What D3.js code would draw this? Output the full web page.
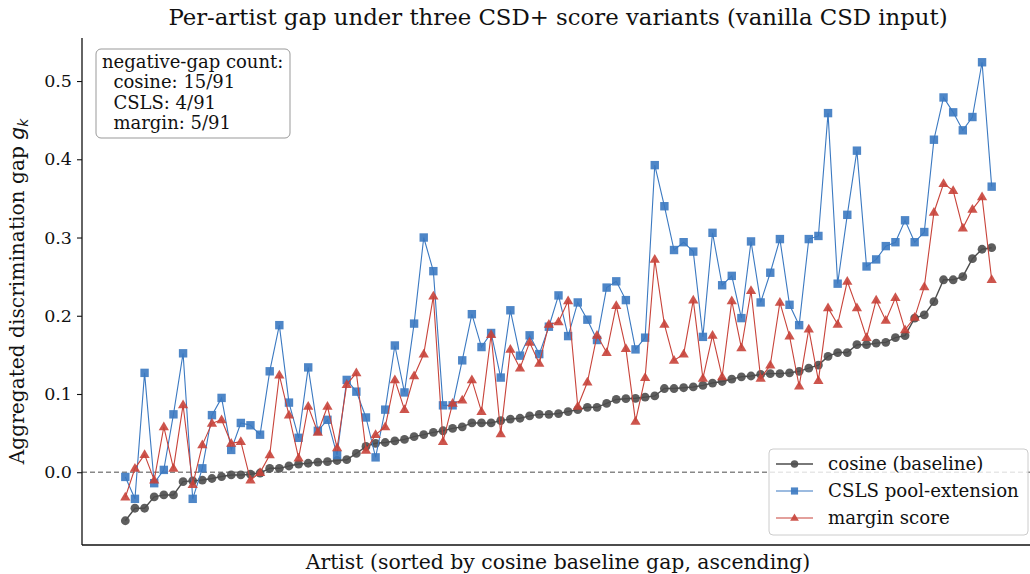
<!DOCTYPE html>
<html>
<head>
<meta charset="utf-8">
<script src="https://cdn.jsdelivr.net/npm/d3@7"></script>
<style>
  body { margin: 0; background: #fff; }
  svg { display: block; font-family: "DejaVu Serif", serif; }
</style>
</head>
<body>
<div id="chart"></div>
<script>
// per-artist gap values, artists sorted by cosine gap
var cosine = [-0.062, -0.046, -0.046, -0.0315, -0.029, -0.029, -0.012, -0.011, -0.010, -0.008, -0.0055, -0.0035, -0.0035, -0.0025, -0.001,
    0.005, 0.005, 0.008, 0.0105, 0.0115, 0.013, 0.0135, 0.015, 0.016, 0.024, 0.033, 0.037, 0.038, 0.040, 0.042, 0.0455,
    0.048, 0.051, 0.053, 0.056, 0.058, 0.063, 0.063, 0.063, 0.066, 0.068, 0.069, 0.072, 0.074, 0.074, 0.075, 0.0775,
    0.080, 0.083, 0.083, 0.088, 0.093, 0.094, 0.0945, 0.096, 0.0975, 0.107, 0.107, 0.108, 0.109, 0.111, 0.114,
    0.116, 0.119, 0.122, 0.123, 0.125, 0.126, 0.126, 0.127, 0.129, 0.133, 0.137, 0.148, 0.153, 0.153, 0.163,
    0.163, 0.165, 0.166, 0.172, 0.1745, 0.197, 0.201, 0.218, 0.246, 0.246, 0.250, 0.273, 0.285, 0.287];

var csls = [-0.006, -0.034, 0.127, -0.014, 0.003, 0.074, 0.152, -0.034, 0.005, 0.073, 0.095, 0.0285, 0.063, 0.060, 0.048,
    0.129, 0.188, 0.089, 0.044, 0.134, 0.053, 0.067, 0.022, 0.118, 0.103, 0.070, 0.019, 0.080, 0.162, 0.102, 0.190,
    0.300, 0.257, 0.0855, 0.0855, 0.143, 0.202, 0.160, 0.178, 0.121, 0.207, 0.149, 0.175, 0.151, 0.186, 0.226, 0.174,
    0.217, 0.195, 0.169, 0.236, 0.244, 0.220, 0.157, 0.172, 0.3925, 0.340, 0.284, 0.294, 0.282, 0.173, 0.306,
    0.239, 0.251, 0.197, 0.295, 0.217, 0.255, 0.298, 0.214, 0.188, 0.298, 0.302, 0.459, 0.241, 0.329, 0.411,
    0.263, 0.272, 0.289, 0.294, 0.322, 0.294, 0.307, 0.425, 0.479, 0.460, 0.437, 0.454, 0.524, 0.365];

var margin = [-0.032, 0.005, 0.0225, -0.010, 0.058, 0.005, 0.086, -0.016, 0.035, 0.0625, 0.067, 0.037, 0.039, -0.010, -0.0005,
    0.022, 0.124, 0.073, 0.018, 0.084, 0.051, 0.084, 0.031, 0.112, 0.127, 0.028, 0.048, 0.058, 0.118, 0.080, 0.123,
    0.151, 0.225, 0.039, 0.088, 0.092, 0.118, 0.0775, 0.176, 0.049, 0.157, 0.133, 0.166, 0.139, 0.189, 0.192, 0.219,
    0.084, 0.115, 0.175, 0.153, 0.213, 0.158, 0.065, 0.121, 0.272, 0.189, 0.143, 0.151, 0.220, 0.120, 0.175,
    0.122, 0.219, 0.159, 0.232, 0.120, 0.137, 0.217, 0.174, 0.110, 0.183, 0.117, 0.210, 0.189, 0.244, 0.210,
    0.172, 0.220, 0.194, 0.223, 0.182, 0.198, 0.237, 0.332, 0.369, 0.360, 0.312, 0.336, 0.352, 0.246];

var series_names = ["cosine (baseline)", "CSLS pool-extension", "margin score"];
var note_lines = ["negative-gap count:", "  cosine: 15/91", "  CSLS: 4/91", "  margin: 5/91"];
var y_ticks = [0.0, 0.1, 0.2, 0.3, 0.4, 0.5];

var width = 1030, height = 574;
var plot_left = 82, plot_right = 1035, plot_top = 38, plot_bottom = 545;

var svg = d3.select("#chart").append("svg")
        .attr("width", width)
        .attr("height", height);

var x = d3.scaleLinear().domain([-4.5, cosine.length - 1 + 4.5]).range([plot_left, plot_right]);
var y = d3.scaleLinear().domain([-0.093, 0.555]).range([plot_bottom, plot_top]);

// zero reference line
svg.append("line")
        .attr("x1", plot_left).attr("x2", plot_right)
        .attr("y1", y(0)).attr("y2", y(0))
        .attr("stroke", "#888")
        .attr("stroke-width", 1.3)
        .attr("stroke-dasharray", "5,3");

var styles = [
    {data: cosine, color: "#4d4d4d", marker: "circle", lw: 1.4},
    {data: csls, color: "#3b79c1", marker: "square", lw: 1.1},
    {data: margin, color: "#c8433a", marker: "triangle", lw: 1.1}
];

function drawMarker(g, kind, cx, cy, color, s) {
    if (kind == "circle") {
        g.append("circle").attr("cx", cx).attr("cy", cy).attr("r", 4.4 * s)
                .attr("fill", color).attr("fill-opacity", 0.9);
    } else if (kind == "square") {
        var h = 4.2 * s;
        g.append("rect").attr("x", cx - h).attr("y", cy - h)
                .attr("width", 2 * h).attr("height", 2 * h)
                .attr("fill", color).attr("fill-opacity", 0.9);
    } else {
        var r = 5.4 * s;
        g.append("path")
                .attr("d", "M" + cx + "," + (cy - r) + "L" + (cx + r * 0.95) + "," + (cy + r * 0.62) +
                        "L" + (cx - r * 0.95) + "," + (cy + r * 0.62) + "Z")
                .attr("fill", color).attr("fill-opacity", 0.9);
    }
}

var line = d3.line()
        .x(function(d, i) { return x(i); })
        .y(function(d) { return y(d); });

styles.forEach(function(st) {
    var g = svg.append("g");
    g.append("path")
            .attr("d", line(st.data))
            .attr("fill", "none")
            .attr("stroke", st.color)
            .attr("stroke-width", st.lw);
    st.data.forEach(function(v, i) {
        drawMarker(g, st.marker, x(i), y(v), st.color, 1);
    });
});

// axes
var yAxis = d3.axisLeft(y)
        .tickValues(y_ticks)
        .tickFormat(d3.format(".1f"))
        .tickSize(5)
        .tickSizeOuter(0)
        .tickPadding(5);
var ya = svg.append("g")
        .attr("transform", "translate(" + plot_left + ",0)")
        .call(yAxis);
ya.select(".domain").remove();
ya.selectAll("text")
        .attr("font-family", "DejaVu Serif")
        .attr("font-size", "17.5px")
        .attr("fill", "#111");
ya.selectAll("line").attr("stroke", "#111").attr("stroke-width", 1.1);

svg.append("line")
        .attr("x1", plot_left).attr("x2", plot_left)
        .attr("y1", plot_top).attr("y2", plot_bottom)
        .attr("stroke", "#111").attr("stroke-width", 1.3);
svg.append("line")
        .attr("x1", plot_left).attr("x2", plot_right)
        .attr("y1", plot_bottom).attr("y2", plot_bottom)
        .attr("stroke", "#111").attr("stroke-width", 1.3);

// title and axis labels
svg.append("text")
        .attr("x", 558).attr("y", 25)
        .attr("text-anchor", "middle")
        .attr("font-size", "22.8px")
        .attr("fill", "#111")
        .text("Per-artist gap under three CSD+ score variants (vanilla CSD input)");

svg.append("text")
        .attr("x", 558).attr("y", 569)
        .attr("text-anchor", "middle")
        .attr("font-size", "20.4px")
        .attr("fill", "#111")
        .text("Artist (sorted by cosine baseline gap, ascending)");

var ylab = svg.append("text")
        .attr("transform", "translate(24," + ((plot_top + plot_bottom) / 2) + ") rotate(-90)")
        .attr("text-anchor", "middle")
        .attr("font-size", "20.2px")
        .attr("fill", "#111");
ylab.append("tspan").text("Aggregated discrimination gap ");
ylab.append("tspan").attr("font-family", "DejaVu Sans").attr("font-style", "italic").text("g");
ylab.append("tspan").attr("font-family", "DejaVu Sans").attr("font-style", "italic")
        .attr("font-size", "14px").attr("dy", 4).text("k");

// annotation box
svg.append("rect")
        .attr("x", 96).attr("y", 49)
        .attr("width", 194).attr("height", 89)
        .attr("rx", 5)
        .attr("fill", "white")
        .attr("stroke", "#999")
        .attr("stroke-width", 1);
note_lines.forEach(function(t, i) {
    svg.append("text")
            .attr("x", 102).attr("y", 68 + i * 20.3)
            .attr("font-size", "18px")
            .attr("fill", "#111")
            .attr("xml:space", "preserve")
            .style("white-space", "pre")
            .text(t);
});

// legend
var lg = svg.append("g");
lg.append("rect")
        .attr("x", 769).attr("y", 449)
        .attr("width", 259).attr("height", 86)
        .attr("rx", 4)
        .attr("fill", "white")
        .attr("fill-opacity", 0.8)
        .attr("stroke", "#ccc")
        .attr("stroke-width", 1);
styles.forEach(function(st, i) {
    var ly = 464 + i * 27;
    lg.append("line")
            .attr("x1", 776).attr("x2", 813)
            .attr("y1", ly).attr("y2", ly)
            .attr("stroke", st.color)
            .attr("stroke-width", st.lw);
    drawMarker(lg, st.marker, 794.5, ly, st.color, 0.85);
    lg.append("text")
            .attr("x", 828).attr("y", ly + 6)
            .attr("font-size", "18.2px")
            .attr("fill", "#111")
            .text(series_names[i]);
});
</script>
</body>
</html>
